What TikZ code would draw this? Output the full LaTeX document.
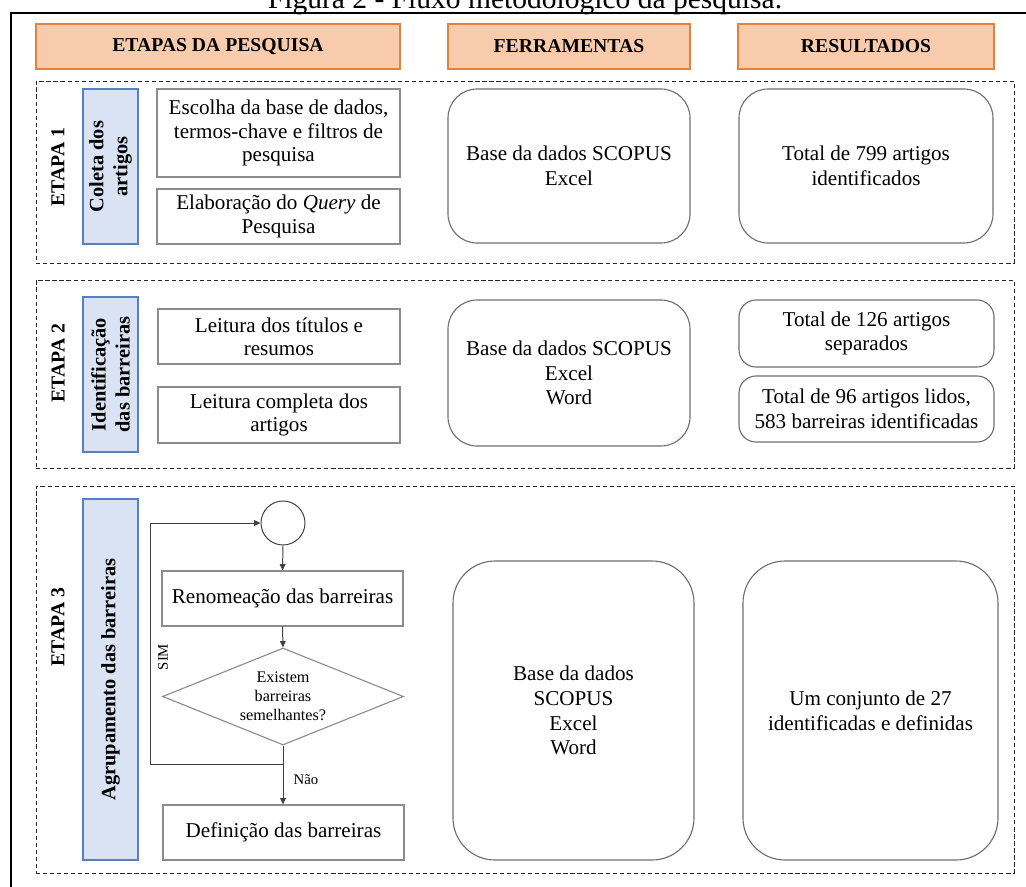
\documentclass[tikz,border=0pt]{standalone}
\usepackage{fontspec}
\setmainfont{Liberation Serif}
\usetikzlibrary{arrows.meta,shapes.geometric}
\definecolor{hdrfill}{HTML}{F8CBAD}
\definecolor{hdrdraw}{HTML}{E3823F}
\definecolor{bluefill}{HTML}{DAE3F3}
\definecolor{bluedraw}{HTML}{5A7EC5}
\definecolor{boxgray}{HTML}{8C8C8C}
\definecolor{rndgray}{HTML}{6E6E6E}
\definecolor{lngray}{HTML}{404040}
\newcommand{\pxu}{0.025cm}
\newcommand{\fs}[2]{\fontsize{#1}{#2}\selectfont}
\newcommand{\placebox}[7]{%
  \node[#2, minimum width={(#5-#3)*\pxu}, minimum height={(#6-#4)*\pxu}] (#1) at ({(#3+#5)/2},{(#4+#6)/2}) {#7};}
\tikzset{
  hdr/.style={draw=hdrdraw, fill=hdrfill, line width=0.8pt, inner sep=0pt, font=\bfseries\fs{14}{17}},
  dashframe/.style={draw=black!85, line width=0.7pt, dash pattern=on 3pt off 2pt, inner sep=0pt},
  bluebox/.style={draw=bluedraw, fill=bluefill, line width=0.8pt, inner sep=0pt, align=center, font=\bfseries\fs{14.5}{17}},
  etapa/.style={rotate=90, font=\bfseries\fs{14}{17}, inner sep=0pt},
  stepbox/.style={draw=boxgray, line width=0.8pt, inner sep=0pt, align=center, font=\fs{15}{16.6}},
  rbox/.style={draw=rndgray, line width=0.8pt, inner sep=0pt, align=center, font=\fs{15}{17.6}, rounded corners=29*\pxu},
  rboxs/.style={rbox, rounded corners=17*\pxu},
  rboxl/.style={rbox, rounded corners=42*\pxu},
  conn/.style={draw=lngray, line width=0.7pt},
  arr/.style={conn, -{Triangle[length=4.5pt,width=4pt]}},
}
\begin{document}
\begin{tikzpicture}[x=\pxu, y=-\pxu]
\useasboundingbox (0,0) rectangle (1026,887);
% title (cut at top)
\node[anchor=base, inner sep=0pt, font=\fs{21}{25}] (title) at (525,9) {Figura 2 - Fluxo metodológico da pesquisa.};
% outer frame
\draw[line width=1pt] (11,887) -- (11,13) -- (1030,13);
% headers
\placebox{h1}{hdr}{36}{24}{400}{69}{ETAPAS DA PESQUISA}
\placebox{h2}{hdr}{448}{24}{690}{69}{FERRAMENTAS}
\placebox{h3}{hdr}{738}{24}{994}{69}{RESULTADOS}
% dashed frames
\placebox{d1}{dashframe}{36}{81}{1014}{263}{}
\placebox{d2}{dashframe}{36}{280}{1014}{468}{}
\placebox{d3}{dashframe}{36}{486}{1014}{873}{}
% etapa labels
\node[etapa] (e1) at (58,167) {ETAPA 1};
\node[etapa] (e2) at (58,363) {ETAPA 2};
\node[etapa] (e3) at (58,627) {ETAPA 3};
% blue boxes
\node[bluebox, rotate=90, minimum width=155*\pxu, minimum height=55*\pxu] (b1) at (110.5,166.5) {Coleta dos\\artigos};
\node[bluebox, rotate=90, minimum width=155*\pxu, minimum height=55*\pxu] (b2) at (110.5,374.5) {Identificação\\das barreiras};
\node[bluebox, rotate=90, minimum width=361*\pxu, minimum height=55*\pxu] (b3) at (110.5,679.5) {Agrupamento das barreiras};
% step boxes
\placebox{s1}{stepbox}{157}{89}{400}{177}{Escolha da base de dados,\\termos-chave e filtros de\\pesquisa}
\placebox{s2}{stepbox}{157}{189}{400}{244}{Elaboração do \textit{Query} de\\Pesquisa}
\placebox{s3}{stepbox}{158}{309}{400}{364}{Leitura dos títulos e\\resumos}
\placebox{s4}{stepbox}{158}{387}{400}{443}{Leitura completa dos\\artigos}
\placebox{s5}{stepbox}{162}{571}{403}{626}{Renomeação das barreiras}
\placebox{s6}{stepbox}{163}{805}{404}{860}{Definição das barreiras}
% flowchart
\node[circle, draw=lngray, line width=0.7pt, minimum size=44*\pxu, inner sep=0pt] (c) at (283,523) {};
\node[diamond, draw=boxgray, line width=0.8pt, minimum width=241*\pxu, minimum height=97*\pxu, aspect=2.5, inner sep=0pt, align=center, font=\fs{11.5}{13.5}] (dm) at (283,696.5) {Existem\\barreiras\\semelhantes?};
\coordinate (j) at (283,764);
\coordinate (lp) at (150,764);
\draw[arr] (c.south) -- (s5.north);
\draw[arr] (s5.south) -- (dm.north);
\draw[arr] (dm.south) -- (s6.north -| dm.south);
\draw[arr] (j) -- (lp) |- (c.west);
\node[rotate=90, inner sep=0pt, font=\fs{10.5}{12}] (sim) at (163,657) {SIM};
\node[inner sep=0pt, font=\fs{10.5}{12}] (nao) at (306,780) {Não};
% ferramentas
\placebox{f1}{rbox}{448}{89}{690}{243}{Base da dados SCOPUS\\Excel}
\placebox{f2}{rbox}{448}{300}{690}{446}{Base da dados SCOPUS\\Excel\\Word}
\placebox{f3}{rboxl}{453}{561}{694}{860}{Base da dados\\SCOPUS\\Excel\\Word}
% resultados
\placebox{r1}{rbox}{739}{89}{993}{243}{Total de 799 artigos\\identificados}
\placebox{r2a}{rboxs}{739}{300}{994}{367}{Total de 126 artigos\\separados}
\placebox{r2b}{rboxs}{739}{376}{994}{442}{Total de 96 artigos lidos,\\583 barreiras identificadas}
\placebox{r3}{rboxl}{743}{561}{998}{860}{Um conjunto de 27\\identificadas e definidas}
\end{tikzpicture}
\end{document}
